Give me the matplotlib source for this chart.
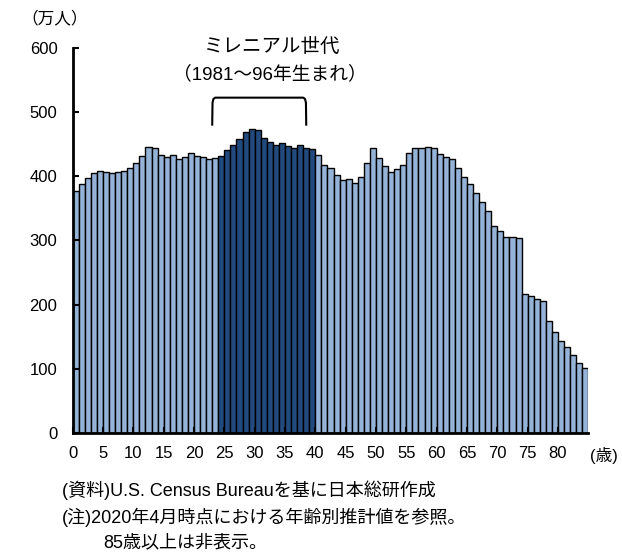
import numpy as np
import matplotlib.pyplot as plt

plt.rcParams['font.family'] = ['Liberation Sans', 'Noto Sans CJK JP', 'DejaVu Sans']

# population by age (0-84), 10k persons
ages = list(range(85))
population = [377, 387, 397, 405, 408, 406, 405, 406, 408, 412,
              421, 432, 445, 443, 433, 430, 433, 427, 429, 436,
              432, 429, 426, 428,
              432, 440, 449, 458, 468, 474, 472, 460, 453, 448,
              451, 447, 443, 448, 444, 442,
              433, 417, 412, 401, 394, 395, 389, 398, 420, 443,
              428, 415, 406, 411, 418, 436, 444, 443, 446, 443,
              435, 429, 426, 412, 399, 388, 373, 359, 346, 323,
              314, 305, 305, 303, 216, 213, 209, 205, 175, 157,
              143, 134, 122, 109, 101]
millennial_ages = range(24, 40)
xtick_vals = list(range(0, 85, 5))
ytick_vals = [0, 100, 200, 300, 400, 500, 600]

light = '#95b3d7'
dark = '#234a7e'
colors = [dark if a in millennial_ages else light for a in ages]

fig = plt.figure(figsize=(6.22, 5.53), dpi=100)
ax = fig.add_axes([0.1169, 0.2165, 0.8289, 0.6976])

ax.bar(np.array(ages) + 0.5, population, width=1.0, color=colors,
       edgecolor='black', linewidth=1.0)

ax.set_xlim(0, 85)
ax.set_ylim(0, 600)
ax.set_xticks(xtick_vals)
ax.set_xticklabels([str(v) for v in xtick_vals], fontsize=12)
ax.set_yticks(ytick_vals)
ax.set_yticklabels([str(v) for v in ytick_vals], fontsize=12)
ax.tick_params(axis='both', direction='in', length=4, width=1.5)
ax.tick_params(axis='x', pad=9)
ax.tick_params(axis='y', pad=11)

for s in ['top', 'right']:
    ax.spines[s].set_visible(False)
ax.spines['left'].set_linewidth(2)
ax.spines['bottom'].set_linewidth(2)

# bracket over millennial generation (slightly rounded corners)
bx0, bx1, by0, by1 = 23.0, 38.5, 480, 522
bracket_x = [bx0, bx0 + 0.05, bx0 + 0.2, bx0 + 0.5, bx1 - 0.5, bx1 - 0.2, bx1 - 0.05, bx1]
bracket_y = [by0, by1 - 8, by1 - 2, by1, by1, by1 - 2, by1 - 8, by0]
ax.plot(bracket_x, bracket_y, color='black', lw=1.5)

fig.text(55 / 622, 1 - 18 / 553, '（万人）', fontsize=12, ha='center', va='center')
fig.text(272 / 622, 1 - 47 / 553, 'ミレニアル世代', fontsize=14, ha='center', va='center')
fig.text(270 / 622, 1 - 74 / 553, '（1981～96年生まれ）', fontsize=13.5, ha='center', va='center')
fig.text(604 / 622, 1 - 455 / 553, '(歳)', fontsize=12, ha='center', va='center')

fig.text(62 / 622, 1 - 490 / 553, '(資料)U.S. Census Bureauを基に日本総研作成', fontsize=13, va='center')
fig.text(62 / 622, 1 - 517 / 553, '(注)2020年4月時点における年齢別推計値を参照。', fontsize=13, va='center')
fig.text(103 / 622, 1 - 543 / 553, '85歳以上は非表示。', fontsize=13, va='center')

fig.savefig('out.png', dpi=100)
